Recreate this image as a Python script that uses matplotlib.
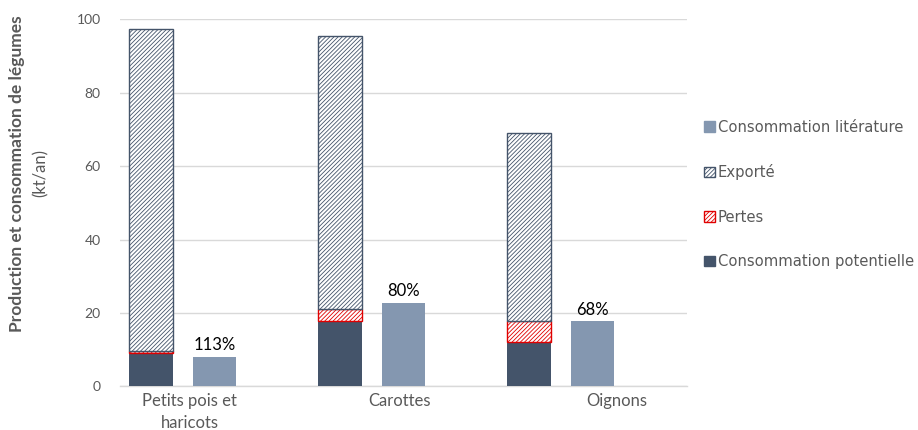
import numpy as np
import matplotlib.pyplot as plt
import matplotlib.patches as mpatches

plt.rcParams["font.family"] = ["Lato", "DejaVu Sans"]
plt.rcParams["hatch.linewidth"] = 0.6

DARK = "#44546A"
LIGHT = "#8497B0"
RED = "#E00000"
GREY = "#595959"
GRID = "#D9D9D9"

categories = ["Petits pois et\nharicots", "Carottes", "Oignons"]
conso_potentielle = [9.0, 17.9, 12.0]
pertes = [0.7, 3.1, 5.9]
exporte = [87.5, 74.4, 51.0]
conso_litterature = [8.1, 22.8, 17.7]
ratio_labels = ["113%", "80%", "68%"]

x = np.arange(len(categories))
width = 0.23
HATCH = "////////"

fig = plt.figure(figsize=(9.18, 4.30), dpi=100)
ax = fig.add_axes([0.1307, 0.1012, 0.6177, 0.8544])

bottom_exp = np.array(conso_potentielle) + np.array(pertes)
ax.bar(x - 0.335, conso_potentielle, width, color=DARK, zorder=3)
ax.bar(x - 0.335, pertes, width, bottom=conso_potentielle, facecolor="white",
       edgecolor=RED, hatch=HATCH, linewidth=1.0, zorder=3)
ax.bar(x - 0.335, exporte, width, bottom=bottom_exp, facecolor="white",
       edgecolor=DARK, hatch=HATCH, linewidth=1.0, zorder=3)
ax.bar(x, conso_litterature, width, color=LIGHT, zorder=3)

for xi, v, lab in zip(x, conso_litterature, ratio_labels):
    ax.text(xi, v + 1.0, lab, ha="center", va="bottom", fontsize=12,
            color="black")

ax.set_xlim(-0.5, 2.5)
ax.set_ylim(0, 100)
ax.set_yticks([0, 20, 40, 60, 80, 100])
ax.yaxis.grid(True, color=GRID, linewidth=1.0, zorder=0)
ax.set_axisbelow(True)
for s in ["left", "right", "top"]:
    ax.spines[s].set_visible(False)
ax.spines["bottom"].set_color(GRID)
ax.spines["bottom"].set_linewidth(1.0)
ax.tick_params(axis="y", length=0, labelsize=10, colors=GREY, pad=14)
ax.tick_params(axis="x", length=0, labelsize=12, colors=GREY, pad=5)
ax.set_xticks([-0.13, 0.98, 2.13])
ax.set_xticklabels(categories, linespacing=1.45)

fig.text(0.019, 1 - 174 / 430, "Production et consommation de légumes",
         rotation=90, ha="center", va="center", fontsize=12.5,
         fontweight="bold", color=GREY)
fig.text(0.044, 1 - 173 / 430, "(kt/an)", rotation=90, ha="center",
         va="center", fontsize=12, color=GREY)

handles = [
    mpatches.Patch(facecolor=LIGHT, edgecolor=LIGHT, label="Consommation litérature"),
    mpatches.Patch(facecolor="white", edgecolor=DARK, hatch=HATCH, label="Exporté"),
    mpatches.Patch(facecolor="white", edgecolor=RED, hatch=HATCH, label="Pertes"),
    mpatches.Patch(facecolor=DARK, edgecolor=DARK, label="Consommation potentielle"),
]
fig.legend(handles=handles, loc="center left", bbox_to_anchor=(0.752, 0.548),
           frameon=False, handlelength=0.75, handleheight=0.75,
           handletextpad=0.2, labelspacing=2.0, labelcolor=GREY,
           prop={"family": ["DejaVu Sans"], "size": 10.6})

fig.savefig("out.png", dpi=100)
